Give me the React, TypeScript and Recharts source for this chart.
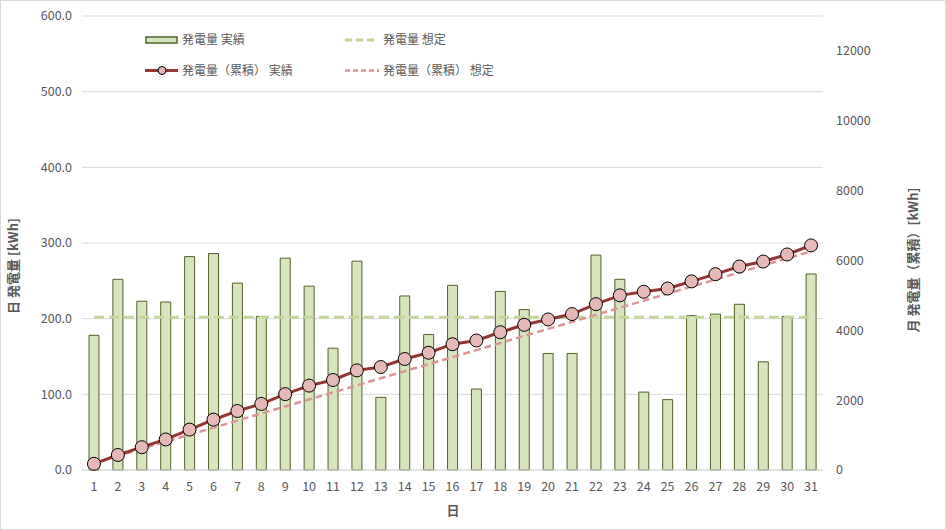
import React from "react";
import {
  Bar,
  CartesianGrid,
  ComposedChart,
  Legend,
  Line,
  XAxis,
  YAxis,
} from "recharts";

const days = [
  "1", "2", "3", "4", "5", "6", "7", "8", "9", "10", "11", "12", "13", "14", "15", "16",
  "17", "18", "19", "20", "21", "22", "23", "24", "25", "26", "27", "28", "29", "30", "31",
];

// 日 発電量 実績 [kWh]
const dailyActual = [
  178, 252, 223, 222, 282, 286, 247, 203, 280, 243, 161, 276, 96, 230, 179, 244,
  107, 236, 212, 154, 154, 284, 252, 103, 93, 204, 206, 219, 143, 203, 259,
];

// 日 発電量 想定 [kWh]
const dailyPlan = [
  202, 202, 202, 202, 202, 202, 202, 202, 202, 202, 202, 202, 202, 202, 202, 202,
  202, 202, 202, 202, 202, 202, 202, 202, 202, 202, 202, 202, 202, 202, 202,
];

// 月 発電量（累積） 実績 [kWh]
const cumActual = [
  178, 430, 653, 875, 1157, 1443, 1690, 1893, 2173, 2416, 2577, 2853, 2949, 3179, 3358, 3602,
  3709, 3945, 4157, 4311, 4465, 4749, 5001, 5104, 5197, 5401, 5607, 5826, 5969, 6172, 6431,
];

// 月 発電量（累積） 想定 [kWh]
const cumPlan = [
  202, 404, 606, 808, 1010, 1212, 1414, 1616, 1818, 2020, 2222, 2424, 2626, 2828, 3030, 3232,
  3434, 3636, 3838, 4040, 4242, 4444, 4646, 4848, 5050, 5252, 5454, 5656, 5858, 6060, 6262,
];

const leftTicks = [0, 100, 200, 300, 400, 500, 600];
const rightTicks = [0, 2000, 4000, 6000, 8000, 10000, 12000];

const FONT = "'Noto Sans CJK JP', 'Noto Sans', sans-serif";
const GRAY = "#595959";

const BAR_FILL = "#D7E4BD";
const BAR_STROKE = "#4F6228";
const PLAN_GREEN = "#C3D69B";
const CUM_RED = "#943634";
const DOT_FILL = "#E6B9B8";
const PLAN_PINK = "#DA9694";

const data = days.map((d, i) => ({
  day: d,
  actual: dailyActual[i],
  plan: dailyPlan[i],
  cumActual: cumActual[i],
  cumPlan: cumPlan[i],
}));

function LegendBox() {
  const txt = { fontFamily: FONT, fontSize: 12, fill: GRAY };
  return (
    <svg width={520} height={90} style={{ display: "block" }}>
      <rect x={146} y={37} width={31} height={6} fill={BAR_FILL} stroke={BAR_STROKE} strokeWidth={1.5} />
      <text x={182} y={44} {...txt}>発電量 実績</text>

      <line x1={345} x2={378} y1={40} y2={40} stroke={PLAN_GREEN} strokeWidth={3} strokeDasharray="7 4" />
      <text x={383} y={44} {...txt}>発電量 想定</text>

      <line x1={145} x2={178} y1={70.5} y2={70.5} stroke={CUM_RED} strokeWidth={3} />
      <circle cx={162} cy={70.5} r={4} fill={DOT_FILL} stroke="#000" strokeWidth={1} />
      <text x={182} y={75} {...txt}>発電量（累積） 実績</text>

      <line x1={345} x2={379} y1={70.5} y2={70.5} stroke={PLAN_PINK} strokeWidth={2.5} strokeDasharray="5 3" />
      <text x={383} y={75} {...txt}>発電量（累積） 想定</text>
    </svg>
  );
}

function LeftTitle() {
  return (
    <text
      x={18}
      y={266}
      transform="rotate(-90 18 266)"
      textAnchor="middle"
      fontFamily={FONT}
      fontSize={13}
      fontWeight="bold"
      fill={GRAY}
    >
      日 発電量 [kWh]
    </text>
  );
}

function RightTitle() {
  return (
    <text
      x={918}
      y={260}
      transform="rotate(-90 918 260)"
      textAnchor="middle"
      fontFamily={FONT}
      fontSize={13}
      fontWeight="bold"
      fill={GRAY}
    >
      月 発電量（累積）[kWh]
    </text>
  );
}

function BottomTitle() {
  return (
    <text x={453} y={515} textAnchor="middle" fontFamily={FONT} fontSize={13} fontWeight="bold" fill={GRAY}>
      日
    </text>
  );
}

export default function App() {
  const tick = { fontFamily: FONT, fontSize: 12.5, fill: GRAY };
  return (
    <div style={{ position: "absolute", left: 0, top: 0, width: 946, height: 530, background: "#fff" }}>
      <ComposedChart
        width={946}
        height={530}
        data={data}
        margin={{ top: 16, right: 0, bottom: 0, left: 0 }}
      >
        <CartesianGrid yAxisId="left" vertical={false} stroke="#D9D9D9" />
        <XAxis
          dataKey="day"
          height={60}
          tick={tick}
          tickLine={false}
          tickSize={0}
          tickMargin={12}
          axisLine={{ stroke: "#D9D9D9" }}
          interval={0}
          label={<BottomTitle />}
        />
        <YAxis
          yAxisId="left"
          width={82}
          domain={[0, 600]}
          ticks={leftTicks}
          tickFormatter={(v: number) => v.toFixed(1)}
          tick={tick}
          tickLine={false}
          axisLine={false}
          tickSize={0}
          tickMargin={10}
          label={<LeftTitle />}
        />
        <YAxis
          yAxisId="right"
          orientation="right"
          width={123}
          domain={[0, 13000]}
          ticks={rightTicks}
          tick={{ ...tick, textAnchor: "start" }}
          tickLine={false}
          axisLine={false}
          tickSize={0}
          tickMargin={13}
          label={<RightTitle />}
        />
        <Legend
          layout="horizontal"
          verticalAlign="middle"
          align="center"
          wrapperStyle={{ top: 0, left: 0, width: 520, height: 90 }}
          content={() => <LegendBox />}
        />
        <Bar
          yAxisId="left"
          dataKey="actual"
          name="発電量 実績"
          barSize={10}
          fill={BAR_FILL}
          stroke={BAR_STROKE}
          strokeWidth={1}
          isAnimationActive={false}
        />
        <Line
          yAxisId="left"
          dataKey="plan"
          name="発電量 想定"
          stroke={PLAN_GREEN}
          strokeWidth={3}
          strokeDasharray="10 5"
          dot={false}
          activeDot={false}
          isAnimationActive={false}
        />
        <Line
          yAxisId="right"
          dataKey="cumPlan"
          name="発電量（累積） 想定"
          stroke={PLAN_PINK}
          strokeWidth={2.5}
          strokeDasharray="7 4"
          dot={false}
          activeDot={false}
          isAnimationActive={false}
        />
        <Line
          yAxisId="right"
          dataKey="cumActual"
          name="発電量（累積） 実績"
          stroke={CUM_RED}
          strokeWidth={3}
          dot={{ r: 6.5, fill: DOT_FILL, stroke: "#000", strokeWidth: 1 }}
          activeDot={false}
          isAnimationActive={false}
        />
      </ComposedChart>
      <div
        style={{
          position: "absolute",
          inset: 0,
          border: "1px solid #D9D9D9",
          pointerEvents: "none",
        }}
      />
    </div>
  );
}
